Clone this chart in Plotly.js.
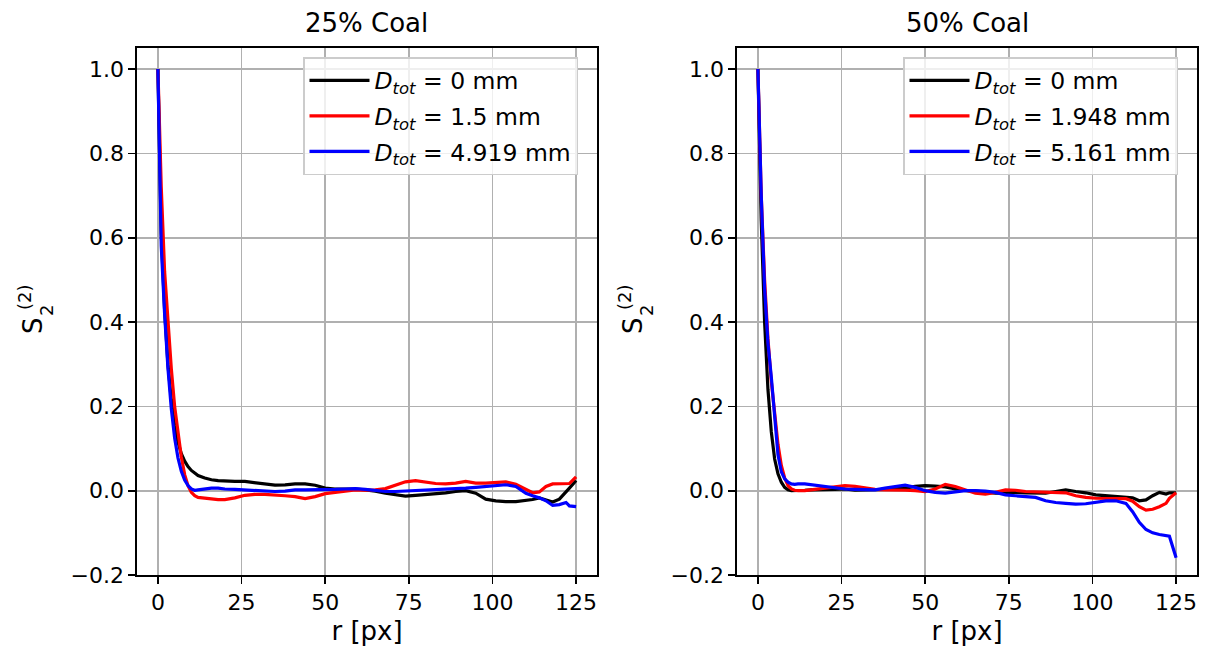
<!DOCTYPE html>
<html>
<head>
<meta charset="utf-8">
<script src="https://cdn.plot.ly/plotly-3.0.1.min.js"></script>
<style>
  html, body { margin: 0; padding: 0; background: #ffffff; }
  #chart { width: 1205px; height: 651px; }
</style>
</head>
<body>
<div id="chart"></div>
<script>
// Radial distance samples (pixels) shared by every curve
const r = [0, 1, 2, 3, 4, 5, 6, 7, 8, 9, 10, 11, 12,
           14, 16, 18, 20,
           23, 26, 29, 32, 35, 38, 41, 44, 47, 50, 53, 56, 59, 62, 65, 68, 71, 74, 77, 80,
           83, 86, 89, 92, 95, 98, 101, 104, 107, 110,
           112, 114, 116, 118, 120, 122, 123, 125];

// 25% coal
const coal25_d0 = [1.0, 0.61, 0.43, 0.30, 0.215, 0.155, 0.115, 0.088, 0.07, 0.057, 0.048, 0.041, 0.036,
  0.030, 0.026, 0.024, 0.023,
  0.022, 0.022, 0.019, 0.015, 0.013, 0.014, 0.016, 0.016, 0.013, 0.006, 0.004, 0.004, 0.004, 0.002, -0.001, -0.006, -0.010, -0.013, -0.011, -0.009,
  -0.008, -0.005, -0.002, 0.0, -0.006, -0.020, -0.024, -0.026, -0.026, -0.024,
  -0.021, -0.017, -0.022, -0.027, -0.020, -0.004, 0.006, 0.024];
const coal25_d1 = [1.0, 0.72, 0.52, 0.40, 0.29, 0.20, 0.135, 0.08, 0.038, 0.012, -0.004, -0.012, -0.016,
  -0.018, -0.019, -0.021, -0.021,
  -0.017, -0.011, -0.009, -0.009, -0.010, -0.012, -0.014, -0.019, -0.014, -0.007, -0.004, -0.001, 0.002, 0.001, 0.002, 0.005, 0.014, 0.021, 0.024, 0.020,
  0.017, 0.016, 0.018, 0.022, 0.018, 0.018, 0.020, 0.021, 0.015, 0.003,
  -0.005, -0.003, 0.010, 0.016, 0.017, 0.017, 0.017, 0.033];
const coal25_d2 = [1.0, 0.58, 0.42, 0.29, 0.195, 0.125, 0.078, 0.046, 0.025, 0.012, 0.004, 0.001, 0.002,
  0.004, 0.006, 0.006, 0.004,
  0.003, 0.002, 0.0, -0.001, -0.002, -0.001, 0.002, 0.002, 0.002, 0.003, 0.003, 0.004, 0.005, 0.003, 0.001, -0.002, -0.002, -0.001, 0.0, 0.002,
  0.002, 0.003, 0.005, 0.006, 0.008, 0.010, 0.012, 0.014, 0.010, -0.006,
  -0.012, -0.017, -0.024, -0.035, -0.033, -0.028, -0.036, -0.038];

// 50% coal
const coal50_d0 = [1.0, 0.64, 0.40, 0.24, 0.14, 0.075, 0.04, 0.02, 0.008, 0.002, 0.0, 0.0, 0.0,
  0.001, 0.002, 0.002, 0.002,
  0.003, 0.004, 0.001, 0.002, 0.002, 0.003, 0.007, 0.006, 0.010, 0.012, 0.011, 0.009, 0.004, 0.0, -0.001, -0.004, -0.006, -0.006, -0.004, -0.005,
  -0.006, -0.006, -0.002, 0.002, -0.002, -0.005, -0.010, -0.012, -0.013, -0.015,
  -0.017, -0.024, -0.022, -0.012, -0.004, -0.008, -0.005, -0.005];
const coal50_d1 = [1.0, 0.70, 0.50, 0.36, 0.26, 0.19, 0.11, 0.06, 0.03, 0.012, 0.004, 0.001, 0.0,
  0.0, 0.002, 0.004, 0.005,
  0.008, 0.012, 0.010, 0.006, 0.003, 0.002, 0.002, 0.001, 0.0, -0.002, 0.004, 0.015, 0.010, 0.002, -0.006, -0.008, -0.004, 0.002, 0.001, -0.002,
  -0.003, -0.004, -0.004, -0.005, -0.012, -0.016, -0.018, -0.018, -0.018, -0.019,
  -0.025, -0.038, -0.046, -0.044, -0.038, -0.030, -0.018, -0.005];
const coal50_d2 = [1.0, 0.70, 0.48, 0.35, 0.27, 0.18, 0.085, 0.045, 0.028, 0.020, 0.016, 0.015, 0.016,
  0.016, 0.014, 0.012, 0.010,
  0.007, 0.004, 0.003, 0.002, 0.002, 0.006, 0.010, 0.013, 0.008, 0.0, -0.004, -0.006, -0.003, 0.0, 0.0, -0.001, -0.004, -0.010, -0.012, -0.014,
  -0.016, -0.024, -0.028, -0.030, -0.032, -0.031, -0.027, -0.024, -0.024, -0.030,
  -0.050, -0.075, -0.092, -0.100, -0.104, -0.106, -0.108, -0.159];

const panelTitles = ['25% Coal', '50% Coal'];
const labels25 = ['0', '1.5', '4.919'];
const labels50 = ['0', '1.948', '5.161'];
const colors = ['#000000', '#ff0000', '#0000ff'];
const xTicks = [0, 25, 50, 75, 100, 125];
const yTicks = [-0.2, 0.0, 0.2, 0.4, 0.6, 0.8, 1.0];

const W = 1205, H = 651;
const FONT = 'DejaVu Sans, Verdana, sans-serif';
const fx = p => p / W;          // pixel column -> paper fraction
const fy = p => 1 - p / H;      // pixel row -> paper fraction

function legendName(v) {
  return '<i>D</i><sub><i>tot</i></sub> = ' + v + ' mm';
}

const traces = [];
[coal25_d0, coal25_d1, coal25_d2].forEach((ys, i) => {
  traces.push({
    x: r, y: ys, type: 'scatter', mode: 'lines',
    line: { color: colors[i], width: 3.2 },
    name: legendName(labels25[i]),
    legendgroup: 'a' + i,
    xaxis: 'x', yaxis: 'y', legend: 'legend'
  });
});
[coal50_d0, coal50_d1, coal50_d2].forEach((ys, i) => {
  traces.push({
    x: r, y: ys, type: 'scatter', mode: 'lines',
    line: { color: colors[i], width: 3.2 },
    name: legendName(labels50[i]),
    legendgroup: 'b' + i,
    xaxis: 'x2', yaxis: 'y2', legend: 'legend2'
  });
});

function xAxis(domain, anchor) {
  return {
    domain: domain, anchor: anchor,
    range: [-6.25, 131.25],
    tickvals: xTicks, ticktext: xTicks.map(String),
    showgrid: true, gridcolor: '#b0b0b0', gridwidth: 1.7,
    zeroline: false,
    showline: true, mirror: true, linecolor: '#000000', linewidth: 1.7,
    ticks: 'outside', ticklen: 7, tickwidth: 1.7, tickcolor: '#000000',
    tickfont: { family: FONT, size: 22, color: '#000000' },
    title: { text: 'r [px]', font: { family: FONT, size: 26, color: '#000000' }, standoff: 8 },
    automargin: false, fixedrange: true
  };
}
function yAxis(anchor) {
  return {
    domain: [fy(575), fy(48)], anchor: anchor,
    range: [-0.2, 1.05],
    tickvals: yTicks, ticktext: yTicks.map(v => v.toFixed(1).replace('-', '\u2212')),
    showgrid: true, gridcolor: '#b0b0b0', gridwidth: 1.7,
    zeroline: false,
    showline: true, mirror: true, linecolor: '#000000', linewidth: 1.7,
    ticks: 'outside', ticklen: 7, tickwidth: 1.7, tickcolor: '#000000',
    tickfont: { family: FONT, size: 22, color: '#000000' },
    automargin: false, fixedrange: true
  };
}

function legendBox(left) {
  return {
    x: fx(left), y: fy(57), xanchor: 'left', yanchor: 'top',
    xref: 'paper', yref: 'paper',
    bgcolor: 'rgba(255,255,255,0.8)', bordercolor: '#cccccc', borderwidth: 1.5,
    font: { family: FONT, size: 23.5, color: '#000000' },
    itemwidth: 60, tracegroupgap: 2, traceorder: 'grouped'
  };
}

// S_2^(2) axis label built from rotated pieces so the sub/superscript stack
function yLabel(offset) {
  return [
    { text: 'S', x: fx(33 + offset), y: fy(326), size: 26 },
    { text: '2', x: fx(46 + offset), y: fy(311), size: 18 },
    { text: '(2)', x: fx(24 + offset), y: fy(297), size: 18 }
  ].map(p => ({
    text: p.text, x: p.x, y: p.y, xref: 'paper', yref: 'paper',
    xanchor: 'center', yanchor: 'middle', showarrow: false, textangle: -90,
    font: { family: FONT, size: p.size, color: '#000000' }
  }));
}

const annotations = [
  { text: panelTitles[0], x: fx(367), y: fy(23) },
  { text: panelTitles[1], x: fx(967), y: fy(23) }
].map(a => ({
  text: a.text, x: a.x, y: a.y, xref: 'paper', yref: 'paper',
  xanchor: 'center', yanchor: 'middle', showarrow: false,
  font: { family: FONT, size: 26, color: '#000000' }
})).concat(yLabel(0), yLabel(600));

const layout = {
  width: W, height: H,
  margin: { l: 0, r: 0, t: 0, b: 0, pad: 0 },
  paper_bgcolor: '#ffffff', plot_bgcolor: '#ffffff',
  font: { family: FONT, color: '#000000' },
  showlegend: true,
  xaxis: xAxis([fx(137), fx(597)], 'y'),
  yaxis: yAxis('x'),
  xaxis2: xAxis([fx(737), fx(1197)], 'y2'),
  yaxis2: yAxis('x2'),
  legend: legendBox(303),
  legend2: legendBox(903),
  annotations: annotations
};

Plotly.newPlot('chart', traces, layout, { displayModeBar: false, staticPlot: true });
</script>
</body>
</html>
